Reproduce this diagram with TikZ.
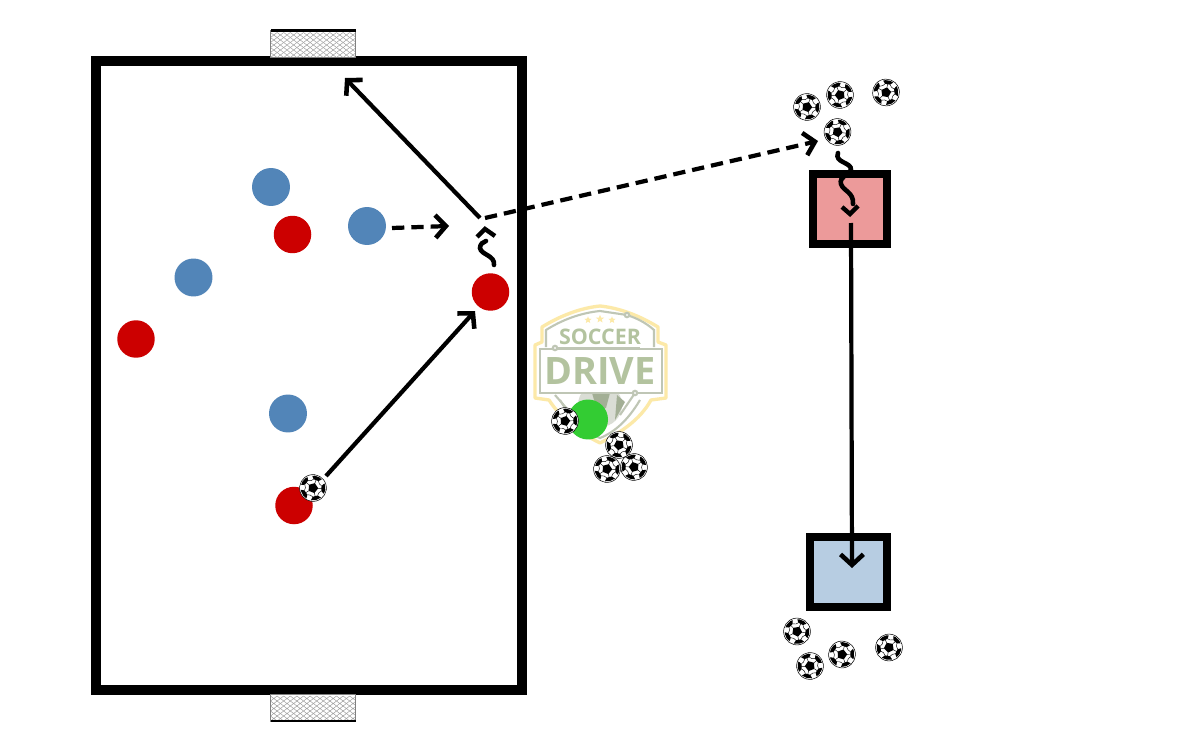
\documentclass[tikz,border=0pt]{standalone}
\usepackage{fontspec}
\newfontfamily\logofont{Open Sans}
\usetikzlibrary{arrows.meta,shapes.geometric}
\definecolor{pred}{HTML}{CC0000}
\definecolor{pblue}{HTML}{5285B8}
\definecolor{pgreen}{HTML}{33CC33}
\definecolor{sqred}{HTML}{EC9A9A}
\definecolor{sqblue}{HTML}{B7CDE2}
\definecolor{logogray}{HTML}{B3C39F}
\definecolor{logoline}{HTML}{BFC6B5}
\definecolor{logoyellow}{HTML}{FCE9A8}
\definecolor{logoglobe}{HTML}{DADDD5}
\tikzset{
  x=0.02cm,y=-0.02cm,
  redp/.style={circle,fill=pred,minimum size=0.75cm,inner sep=0},
  bluep/.style={circle,fill=pblue,minimum size=0.76cm,inner sep=0},
  greenp/.style={circle,fill=pgreen,minimum size=0.8cm,inner sep=0},
  run/.style={line width=2.4pt,-{Straight Barb[length=6pt,width=13pt,line width=2.6pt]}},
  dashrun/.style={run,dash pattern=on 7pt off 4pt},
  dribble/.style={line width=2.6pt,line cap=round},
  chev/.style={line width=2.5pt,line cap=butt,line join=miter},
  pitch/.style={line width=5.7pt,line join=miter},
  zone/.style={line width=4.6pt,line join=miter},
  goalnet/.style={draw=gray!75,line width=0.28pt},
  soccerball/.pic={
    \fill[white] (0,0) circle[radius=13.4];
    \draw[black,line width=0.3pt] (0,0) circle[radius=13.4];
    \fill[black] (90:5.2) -- (162:5.2) -- (234:5.2) -- (306:5.2) -- (18:5.2) -- cycle;
    \begin{scope}
      \clip (0,0) circle[radius=12.4];
      \foreach \a in {90,162,234,306,18}{
        \draw[black,line width=0.25pt] (\a:5.2) -- (\a:9);
        \fill[black] (\a-17:8.8) -- (\a+17:8.8) -- (\a+27:14) -- (\a-27:14) -- cycle;
        \draw[black,line width=0.25pt] (\a+17:8.8) -- (\a+36:7.6) -- (\a+55:8.8);
      }
    \end{scope}
  },
  goalbox/.pic={
    \fill[white] (-42.5,0) rectangle (42.5,27);
    \begin{scope}
      \clip (-42.5,0) rectangle (42.5,27);
      \foreach \r in {0,1,...,4}{
        \foreach \c in {0,1,...,12}{
          \draw[goalnet] (-42.5+\c*6.6,2+\r*5) -- ++(3.3,2.5) -- ++(-3.3,2.5);
          \draw[goalnet] (-35.9+\c*6.6,2+\r*5) -- ++(-3.3,2.5) -- ++(3.3,2.5);
        }
      }
    \end{scope}
    \draw[gray,line width=0.5pt] (-42.5,0) rectangle (42.5,27);
  }
}
\begin{document}
\begin{tikzpicture}
\useasboundingbox (0,0) rectangle (1200,750);
\fill[white] (0,0) rectangle (1200,750);

% logo
\draw[logoyellow,line width=1.9pt,line join=round,fill=white]
  (600,306) .. controls (580,308) and (560,316) .. (542,327) -- (542,342) -- (535,345) -- (535,398)
  -- (549,400) .. controls (562,420) and (580,433) .. (600,443)
  .. controls (620,433) and (640,420) .. (651,400) -- (666,398) -- (666,345) -- (658,342) -- (658,327)
  .. controls (640,316) and (620,308) .. (600,306) -- cycle;
\draw[logoline,line width=1.2pt,line join=round]
  (546,347) -- (546,330) .. controls (562,320) and (580,313) .. (600,311) -- (627,315);
\draw[logoline,line width=1.2pt] (627,315) .. controls (636,318) and (645,322) .. (654,330) -- (654,347);
\draw[logoline,line width=1.2pt] (555,348) -- (640,348);
\draw[logoline,line width=1.2pt,fill=white] (627,315) circle[radius=2.2];
\fill[logoglobe] (600,405) circle[radius=22];
\fill[logogray!70!gray] (592,393) -- (610,393) -- (606,408) -- (597,410) -- cycle;
\fill[logogray!70!gray] (617,395) -- (625,402) -- (615,420) -- cycle;
\draw[logoline,line width=1.5pt,fill=white] (540,349) rectangle (662,393);
\draw[logoline,line width=1.2pt,fill=white] (555,348) circle[radius=2.2];
\draw[logoline,line width=1.2pt] (555,395) -- (568,410);
\draw[logoline,line width=1.2pt] (635,393) -- (620,415);
\draw[logoline,line width=1.2pt,fill=white] (635,393) circle[radius=2.2];
\draw[logoline,line width=1.2pt] (560,400) .. controls (572,420) and (585,432) .. (600,438)
  .. controls (615,432) and (628,420) .. (640,400);
\node[star,star points=5,star point ratio=2.3,fill=logoyellow,inner sep=0,minimum size=0.15cm] (starA) at (588,320) {};
\node[star,star points=5,star point ratio=2.3,fill=logoyellow,inner sep=0,minimum size=0.17cm] (starB) at (600,319) {};
\node[star,star points=5,star point ratio=2.3,fill=logoyellow,inner sep=0,minimum size=0.15cm] (starC) at (612,320) {};
\node[text=logogray,inner sep=0,font=\logofont\bfseries\fontsize{12.2pt}{14pt}\selectfont] (logoA) at (600,337) {SOCCER};
\node[text=logogray,inner sep=0,font=\logofont\bfseries\fontsize{21.5pt}{24pt}\selectfont] (logoB) at (600,371) {DRIVE};

% pitch
\draw[pitch] (96,61) rectangle (522,690);
\pic at (313,30.5) {goalbox};
\fill[black] (270.5,29) rectangle (355.5,32);
\pic at (313,694) {goalbox};
\fill[black] (270.5,719.5) rectangle (355.5,721.5);

% zones
\draw[zone,fill=sqred] (813,174) rectangle (887,244);
\draw[zone,fill=sqblue] (810,537) rectangle (887,607);

% players
\node[bluep] (b1) at (271,187) {};
\node[bluep] (b2) at (367,226) {};
\node[bluep] (b3) at (193.5,277.5) {};
\node[bluep] (b4) at (288,413.5) {};
\node[redp] (r1) at (292.5,234.5) {};
\node[redp] (r2) at (490.5,292) {};
\node[redp] (r3) at (136,339) {};
\node[redp] (r4) at (294,505.5) {};
\node[greenp] (g1) at (588,419.5) {};

% balls
\pic[rotate=15] at (807,107) {soccerball};
\pic[rotate=-15] at (840,95) {soccerball};
\pic[rotate=25] at (886,92.5) {soccerball};
\pic[rotate=10] at (837.5,132) {soccerball};
\pic[rotate=20] at (565,421) {soccerball};
\pic[rotate=-10] at (619,445) {soccerball};
\pic[rotate=15] at (607,469) {soccerball};
\pic[rotate=-20] at (634,467) {soccerball};
\pic[rotate=15] at (313,488) {soccerball};
\pic[rotate=10] at (797,631.5) {soccerball};
\pic[rotate=-15] at (810,666) {soccerball};
\pic[rotate=20] at (842,654.5) {soccerball};
\pic[rotate=-10] at (889,647.5) {soccerball};

% connector end points
\coordinate (a1s) at (326,476);
\coordinate (a1e) at (475,311);
\coordinate (a2s) at (480,218);
\coordinate (a2e) at (345,78);
\coordinate (a3s) at (392,228);
\coordinate (a3e) at (449,226);
\coordinate (a4s) at (485,218);
\coordinate (a4e) at (818,141);
\coordinate (a5s) at (851,223);
\coordinate (a5e) at (852,568);

\draw[run] (a1s) -- (a1e);
\draw[run] (a2s) -- (a2e);
\draw[dashrun] (a3s) -- (a3e);
\draw[dashrun] (a4s) -- (a4e);
\draw[run] (a5s) -- (a5e);

% dribbles
\draw[dribble] (494,265) .. controls (495,255) and (481,255) .. (480,248)
  .. controls (480,244) and (483,242) .. (486,241);
\draw[chev] (477,237) -- (485,229) -- (495,236);
\draw[dribble] (838,153) .. controls (834,163) and (852,162) .. (851,170)
  .. controls (848,175) and (839,177) .. (841,184)
  .. controls (843,191) and (854,192) .. (853,204);
\draw[chev] (842,207) -- (850,214) -- (858,206);
\end{tikzpicture}
\end{document}
